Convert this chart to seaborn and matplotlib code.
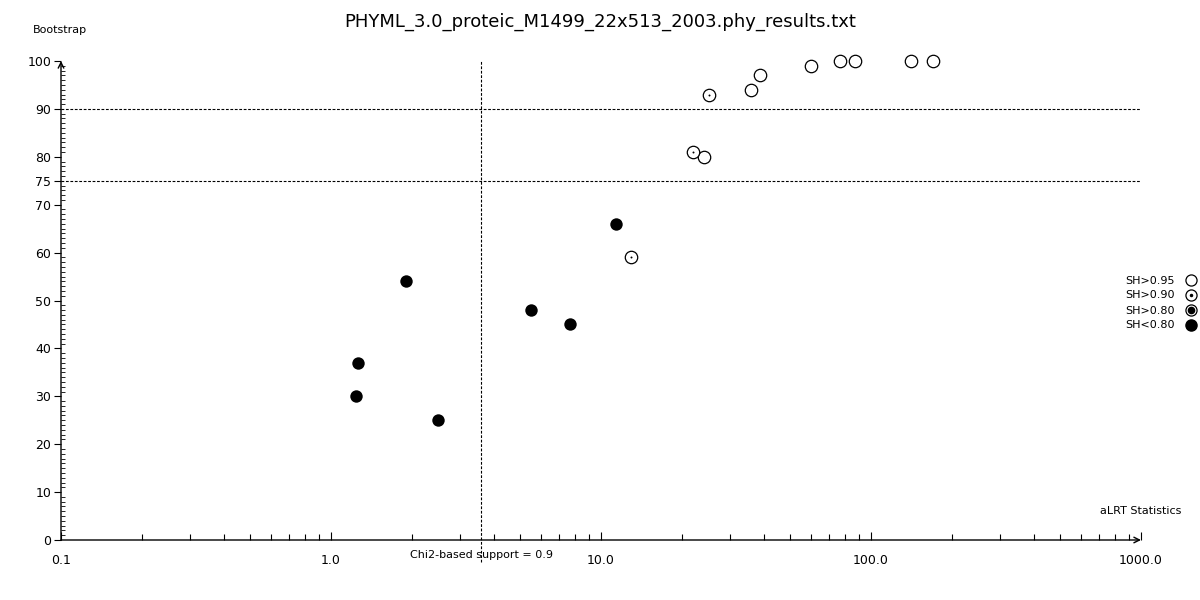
import numpy as np
import pandas as pd
import matplotlib
matplotlib.use("Agg")
import matplotlib.pyplot as plt
import matplotlib.transforms as mtransforms
from matplotlib.lines import Line2D
from matplotlib.legend_handler import HandlerTuple
import seaborn as sns

# valeurs
alrt_sh95 = [35.9, 38.7, 59.8, 76.8, 87.0, 140.3, 169.2, 24.1]
boot_sh95 = [94, 97, 99, 100, 100, 100, 100, 80]
alrt_sh90 = [25.1, 22.0, 12.9]
boot_sh90 = [93, 81, 59]
alrt_sh80 = []
boot_sh80 = []
alrt_low = [1.90, 1.26, 1.24, 2.5, 5.5, 7.7, 11.4]
boot_low = [54, 37, 30, 25, 48, 45, 66]

chi2_cut = 3.6
boot_lines = [90, 75]
yticks = [0, 10, 20, 30, 40, 50, 60, 70, 75, 80, 90, 100]
xticks = [0.1, 1, 10, 100, 1000]
xticklabels = ["0.1", "1.0", "10.0", "100.0", "1000.0"]
legend_labels = ["SH>0.95", "SH>0.90", "SH>0.80", "SH<0.80"]

df = pd.concat([
    pd.DataFrame({"alrt": alrt_sh95, "boot": boot_sh95, "sh": "SH>0.95"}),
    pd.DataFrame({"alrt": alrt_sh90, "boot": boot_sh90, "sh": "SH>0.90"}),
    pd.DataFrame({"alrt": alrt_sh80, "boot": boot_sh80, "sh": "SH>0.80"}),
    pd.DataFrame({"alrt": alrt_low, "boot": boot_low, "sh": "SH<0.80"}),
], ignore_index=True)

sns.set_style("white")
plt.rcParams['font.family'] = ['DejaVu Sans']
plt.rcParams['text.color'] = 'black'
plt.rcParams['xtick.color'] = 'black'
plt.rcParams['ytick.color'] = 'black'
plt.rcParams['xtick.labelcolor'] = 'black'
plt.rcParams['ytick.labelcolor'] = 'black'

fig = plt.figure(figsize=(12, 6), dpi=100)
ax = fig.add_axes([61/1200, 60/600, 1080/1200, 479/600])

S = 80
lw = 0.9
# cercles vides
sns.scatterplot(data=df[df.sh == "SH>0.95"], x="alrt", y="boot", ax=ax, s=S, clip_on=False,
                marker="o", facecolor="white", edgecolor="black", linewidth=lw, legend=False)
sns.scatterplot(data=df[df.sh == "SH>0.90"], x="alrt", y="boot", ax=ax, s=S, clip_on=False,
                marker="o", facecolor="white", edgecolor="black", linewidth=lw, legend=False)
sns.scatterplot(data=df[df.sh == "SH>0.90"], x="alrt", y="boot", ax=ax, s=2, clip_on=False,
                marker="o", color="black", linewidth=0, legend=False)
sns.scatterplot(data=df[df.sh == "SH<0.80"], x="alrt", y="boot", ax=ax, s=S, clip_on=False,
                marker="o", color="black", linewidth=0, legend=False)

ax.set_xscale("log")
ax.set_xlim(0.1, 1000)
ax.set_ylim(0, 100)

# lignes de seuil
for b in boot_lines:
    ax.axhline(b, color="black", lw=0.8, ls=(0, (2.5, 1.5)), zorder=0)
ax.axvline(chi2_cut, ymin=-0.045, ymax=1, color="black", lw=0.8, ls=(0, (2.5, 1.5)),
           clip_on=False, zorder=0)

# axes avec fleches
for s in ax.spines.values():
    s.set_visible(False)
ax.annotate("", xy=(1.0, 0), xytext=(0, 0), xycoords="axes fraction",
            arrowprops=dict(arrowstyle="->", lw=1.0, color="black", shrinkA=0, shrinkB=0))
ax.annotate("", xy=(0, 1.0), xytext=(0, 0), xycoords="axes fraction",
            arrowprops=dict(arrowstyle="->", lw=1.0, color="black", shrinkA=0, shrinkB=0))

ax.set_xticks(xticks)
ax.set_xticklabels(xticklabels)
ax.set_yticks(yticks)
ax.set_yticklabels([str(v) for v in yticks])
ax.set_yticks(np.arange(0, 101, 1), minor=True)
ax.tick_params(which="both", left=True, bottom=True, top=False, right=False, color="black")
ax.tick_params(axis="x", which="major", direction="in", length=6, width=0.8, pad=10, labelsize=9)
ax.tick_params(axis="x", which="minor", direction="in", length=4, width=0.8)
ax.tick_params(axis="y", which="major", direction="out", length=5, width=0.8, pad=2, labelsize=9)
ax.tick_params(axis="y", which="minor", direction="in", length=3, width=0.6)
ax.set_xlabel("")
ax.set_ylabel("")
ax.grid(False)

fig.text(0.5, 1 - 22/600, "PHYML_3.0_proteic_M1499_22x513_2003.phy_results.txt",
         ha="center", va="center", fontsize=13)
fig.text(33/1200, 1 - 30/600, "Bootstrap", ha="left", va="center", fontsize=8)
fig.text(1100/1200, 1 - 511/600, "aLRT Statistics", ha="left", va="center", fontsize=8)
trans = mtransforms.blended_transform_factory(ax.transData, fig.transFigure)
ax.text(chi2_cut, 1 - 555/600, "Chi2-based support = 0.9", transform=trans,
        ha="center", va="center", fontsize=8)

# legende
h95 = Line2D([], [], ls="", marker="o", ms=8, mfc="white", mec="black", mew=lw)
h90 = (Line2D([], [], ls="", marker="o", ms=8, mfc="white", mec="black", mew=lw),
       Line2D([], [], ls="", marker="o", ms=1.5, mfc="black", mec="black"))
h80 = (Line2D([], [], ls="", marker="o", ms=8, mfc="white", mec="black", mew=lw),
       Line2D([], [], ls="", marker="o", ms=4.5, mfc="black", mec="black"))
hlow = Line2D([], [], ls="", marker="o", ms=8, mfc="black", mec="black")
fig.legend([h95, h90, h80, hlow], legend_labels, handler_map={tuple: HandlerTuple(ndivide=1)},
           loc="center right", bbox_to_anchor=(1197/1200, 1 - 303/600), frameon=False,
           markerfirst=False, fontsize=8, labelspacing=0.45, handlelength=1.0,
           handletextpad=1.0, borderpad=0, borderaxespad=0)

fig.savefig("out.png", dpi=100)
